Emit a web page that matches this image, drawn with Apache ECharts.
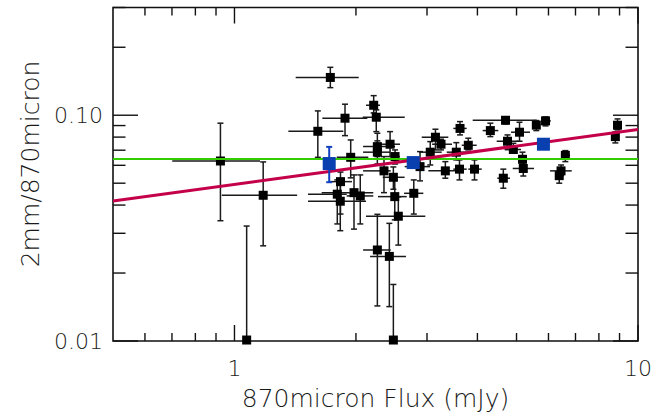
<!DOCTYPE html>
<html><head><meta charset="utf-8">
<script src="https://cdn.jsdelivr.net/npm/echarts@6/dist/echarts.min.js"></script>
<style>html,body{margin:0;padding:0;background:#fff}#c{width:654px;height:414px}</style>
</head><body><div id="c"></div>
<script>
// ---- data ----
const fluxX = [0.923, 1.178, 1.072, 1.609, 1.879, 1.728, 2.213, 2.246, 1.941, 2.260, 2.260, 2.430, 2.500, 1.831, 2.347, 2.476, 1.798, 1.978, 2.050, 1.829, 2.496, 2.782, 2.547, 2.260, 2.420, 2.476,
  2.883, 3.056, 3.148, 3.250, 3.622, 3.546, 3.797, 3.331, 3.611, 3.934, 4.306, 4.696, 4.749, 5.086, 4.910, 4.637, 5.173, 5.197, 5.598, 5.900, 6.606, 6.446, 6.380, 8.897, 8.788];
const ratioY = [0.0627, 0.0442, 0.0101, 0.0849, 0.0970, 0.147, 0.1107, 0.0980, 0.0651, 0.0726, 0.0686, 0.0744, 0.0656, 0.0508, 0.0567, 0.0531, 0.0447, 0.0454, 0.0439, 0.0416, 0.0436, 0.0451, 0.0357, 0.0253, 0.0237, 0.0101,
  0.0592, 0.0686, 0.0799, 0.0744, 0.0874, 0.0686, 0.0736, 0.0567, 0.0577, 0.0577, 0.0855, 0.0950, 0.0767, 0.0841, 0.0705, 0.0526, 0.0638, 0.0581, 0.0904, 0.0944, 0.0664, 0.0567, 0.0540, 0.0903, 0.0804];
const fluxLo = [0.701, 0.930, 1.072, 1.360, 1.651, 1.418, 2.118, 2.079, 1.792, 2.083, 2.083, 2.294, 2.43, 1.724, 2.083, 2.33, 1.521, 1.645, 1.897, 1.521, 2.268, 2.632, 2.118, 2.083, 2.168, 2.476,
  2.641, 2.872, 2.911, 3.088, 3.486, 3.357, 3.657, 3.023, 3.486, 3.797, 4.122, 3.894, 4.465, 4.846, 4.683, 4.481, 4.957, 4.893, 5.486, 5.775, 6.472, 6.055, 6.25, 8.75, 8.65];
const fluxHi = [1.157, 1.430, 1.072, 1.861, 2.134, 2.032, 2.294, 2.642, 2.146, 2.500, 2.430, 2.572, 2.57, 1.955, 2.439, 2.64, 1.897, 2.208, 2.208, 2.118, 2.672, 2.938, 2.971, 2.439, 2.661, 2.476,
  3.053, 3.263, 3.388, 3.460, 3.763, 3.797, 3.984, 3.657, 3.763, 4.100, 4.507, 5.610, 5.052, 5.400, 5.129, 4.818, 5.400, 5.524, 5.718, 6.080, 6.786, 6.851, 6.5, 9.05, 8.93];
const ratioLo = [0.0341, 0.0264, 0.0101, 0.0651, 0.0812, 0.1325, 0.1024, 0.0846, 0.0528, 0.0656, 0.0608, 0.0656, 0.0608, 0.0365, 0.0454, 0.047, 0.0330, 0.0313, 0.0330, 0.0308, 0.0344, 0.0365, 0.0266, 0.0143, 0.0142, 0.0101,
  0.0512, 0.0602, 0.0702, 0.0702, 0.0818, 0.0634, 0.0702, 0.0526, 0.0517, 0.0517, 0.0804, 0.0915, 0.0705, 0.0767, 0.0679, 0.0475, 0.0608, 0.0538, 0.0855, 0.0897, 0.0623, 0.0540, 0.0500, 0.0861, 0.0754];
const ratioHi = [0.0922, 0.0621, 0.0323, 0.1045, 0.1119, 0.163, 0.1221, 0.1056, 0.0777, 0.0832, 0.0770, 0.0846, 0.0702, 0.0560, 0.0656, 0.0590, 0.0517, 0.0544, 0.0544, 0.0491, 0.0517, 0.0517, 0.0435, 0.0364, 0.0332, 0.0178,
  0.0690, 0.0764, 0.0867, 0.0783, 0.0937, 0.0756, 0.0791, 0.0623, 0.0634, 0.0634, 0.0922, 0.0983, 0.0818, 0.0931, 0.0751, 0.0577, 0.0686, 0.0623, 0.0947, 0.0983, 0.0697, 0.0602, 0.0563, 0.0963, 0.0843];

const binX = [1.717, 2.773, 5.83];
const binY = [0.0611, 0.0617, 0.0744];
const binLo = [0.0505, 0.0617, 0.0744];
const binHi = [0.0724, 0.0617, 0.0744];

const fitX = [0.5, 10];
const fitY = [0.0417, 0.0865];
const meanX = [0.5, 10];
const meanY = [0.064, 0.064];

const xMajorTicks = [1, 10];
const xMinorTicks = [0.6, 0.7, 0.8, 0.9, 2, 3, 4, 5, 6, 7, 8, 9];
const yMajorTicks = [0.01, 0.1];
const yMinorTicks = [0.02, 0.03, 0.04, 0.05, 0.06, 0.07, 0.08, 0.09, 0.2, 0.3];
const xTickLabels = ['1', '10'];
const yTickLabels = ['0.01', '0.10'];

const xTitle = '870micron Flux (mJy)';
const yTitle = '2mm/870micron';

// ---- rendering ----
const FONT = '"DejaVu Sans ExtraLight", "DejaVu Sans", sans-serif';
const TXT = '#1a1a1a';
const chart = echarts.init(document.getElementById('c'), null, {renderer: 'svg'});

function errRender(color, lw, cap) {
  return function (params, api) {
    const x = api.value(0), y = api.value(1);
    const xl = api.value(2), xh = api.value(3), yl = api.value(4), yh = api.value(5);
    const pl = api.coord([xl, y]), ph = api.coord([xh, y]);
    const pb = api.coord([x, yl]), pt = api.coord([x, yh]);
    const st = {stroke: color, lineWidth: lw};
    const ch = [];
    if (ph[0] - pl[0] > 0.5) ch.push({type: 'line', shape: {x1: pl[0], y1: pl[1], x2: ph[0], y2: ph[1]}, style: st});
    if (pb[1] - pt[1] > 0.5) {
      ch.push({type: 'line', shape: {x1: pb[0], y1: pb[1], x2: pt[0], y2: pt[1]}, style: st});
      ch.push({type: 'line', shape: {x1: pt[0] - cap, y1: pt[1], x2: pt[0] + cap, y2: pt[1]}, style: st});
      ch.push({type: 'line', shape: {x1: pb[0] - cap, y1: pb[1], x2: pb[0] + cap, y2: pb[1]}, style: st});
    }
    return {type: 'group', children: ch};
  };
}

const tickData = []
  .concat(xMajorTicks.map(v => [v, 0.05, 0]))
  .concat(xMinorTicks.map(v => [v, 0.05, 1]))
  .concat(yMajorTicks.map(v => [1, v, 2]))
  .concat(yMinorTicks.map(v => [1, v, 3]));

const labelData = []
  .concat(xMajorTicks.map((v, i) => [v, 0.05, 0, xTickLabels[i]]))
  .concat(yMajorTicks.map((v, i) => [1, v, 1, yTickLabels[i]]));

const option = {
  backgroundColor: '#fff',
  animation: false,
  grid: {left: 113, top: 7.5, right: 16, bottom: 73, show: true, borderColor: '#111', borderWidth: 1.6, backgroundColor: 'transparent'},
  xAxis: {type: 'log', logBase: 10, min: 0.5, max: 10,
    axisLine: {show: false}, axisTick: {show: false}, axisLabel: {show: false}, splitLine: {show: false}},
  yAxis: {type: 'log', logBase: 10, min: 0.01, max: 0.3,
    axisLine: {show: false}, axisTick: {show: false}, axisLabel: {show: false}, splitLine: {show: false}},
  graphic: [
    {type: 'text', x: 375.5, y: 398, style: {text: xTitle, x: 0, y: 0, textAlign: 'center', textVerticalAlign: 'middle', font: '200 25px ' + FONT, fill: TXT}},
    {type: 'text', x: 30, y: 164, rotation: Math.PI / 2, style: {text: yTitle, x: 0, y: 0, textAlign: 'center', textVerticalAlign: 'middle', font: '200 25px ' + FONT, fill: TXT}}
  ],
  series: [
    {
      type: 'custom', name: 'ticks', silent: true, z: 1, clip: false,
      data: tickData,
      renderItem: function (params, api) {
        const cs = params.coordSys;
        const k = api.value(2);
        const p = api.coord([api.value(0), api.value(1)]);
        const st = {stroke: '#111', lineWidth: 1.4};
        if (k < 2) {
          const len = k === 0 ? 16 : 8;
          return {type: 'group', children: [
            {type: 'line', shape: {x1: p[0], y1: cs.y + cs.height, x2: p[0], y2: cs.y + cs.height - len}, style: st},
            {type: 'line', shape: {x1: p[0], y1: cs.y, x2: p[0], y2: cs.y + len}, style: st}
          ]};
        }
        const len = k === 2 ? 25 : 12.5;
        return {type: 'group', children: [
          {type: 'line', shape: {x1: cs.x, y1: p[1], x2: cs.x + len, y2: p[1]}, style: st},
          {type: 'line', shape: {x1: cs.x + cs.width, y1: p[1], x2: cs.x + cs.width - len, y2: p[1]}, style: st}
        ]};
      }
    },
    {
      type: 'custom', name: 'tickLabels', silent: true, z: 1, clip: false,
      data: labelData,
      renderItem: function (params, api) {
        const cs = params.coordSys;
        const k = api.value(2);
        const txt = labelData[params.dataIndex][3];
        const p = api.coord([api.value(0), api.value(1)]);
        if (k === 0) {
          return {type: 'text', style: {text: txt, x: p[0], y: cs.y + cs.height + 27, textAlign: 'center', textVerticalAlign: 'middle', font: '200 22px ' + FONT, fill: TXT}};
        }
        return {type: 'text', style: {text: txt, x: cs.x - 10, y: p[1], textAlign: 'right', textVerticalAlign: 'middle', font: '200 22px ' + FONT, fill: TXT}};
      }
    },
    {
      type: 'custom', name: 'errors', z: 2,
      data: fluxX.map((v, i) => [v, ratioY[i], fluxLo[i], fluxHi[i], ratioLo[i], ratioHi[i]]),
      renderItem: errRender('#1a1a1a', 1.5, 3)
    },
    {
      type: 'scatter', name: 'sources', z: 3, symbol: 'rect', symbolSize: 9,
      itemStyle: {color: '#000', opacity: 1},
      data: fluxX.map((v, i) => [v, ratioY[i]])
    },
    {
      type: 'line', name: 'mean', z: 4, symbol: 'none', lineStyle: {color: '#33cc00', width: 2},
      data: meanX.map((v, i) => [v, meanY[i]])
    },
    {
      type: 'line', name: 'fit', z: 5, symbol: 'none', lineStyle: {color: '#c4004a', width: 3},
      data: fitX.map((v, i) => [v, fitY[i]])
    },
    {
      type: 'custom', name: 'binErrors', z: 6,
      data: binX.map((v, i) => [v, binY[i], v, v, binLo[i], binHi[i]]),
      renderItem: errRender('#1040c0', 2, 3)
    },
    {
      type: 'scatter', name: 'bins', z: 7, symbol: 'rect', symbolSize: 13,
      itemStyle: {color: '#0a3fb0', opacity: 1},
      data: binX.map((v, i) => [v, binY[i]])
    }
  ]
};
chart.setOption(option);
</script>
</body></html>
